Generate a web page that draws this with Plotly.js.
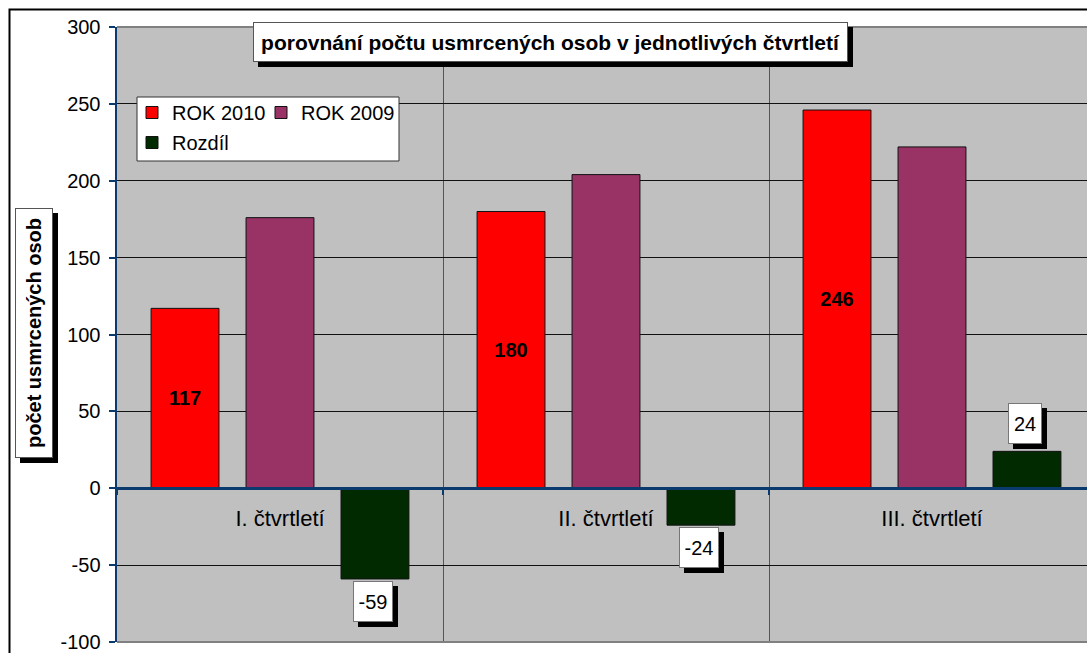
<!DOCTYPE html>
<html>
<head>
<meta charset="utf-8">
<script src="https://cdn.plot.ly/plotly-3.0.1.min.js"></script>
<style>html,body{margin:0;padding:0;background:#fff;}#chart{width:1087px;height:653px;}</style>
</head>
<body>
<div id="chart"></div>
<script>
const categories = ['I. čtvrtletí', 'II. čtvrtletí', 'III. čtvrtletí'];
const rok2010 = [117, 180, 246];
const rok2009 = [176, 204, 222];
const rozdil = [-59, -24, 24];
const seriesNames = ['ROK 2010', 'ROK 2009', 'Rozdíl'];
const yTickVals = [-100, -50, 0, 50, 100, 150, 200, 250, 300];
const yTickText = ['-100', '-50', '0', '50', '100', '150', '200', '250', '300'];
const chartTitle = 'porovnání počtu usmrcených osob v jednotlivých čtvrtletí';
const yTitle = 'počet usmrcených osob';

const W = 1087, H = 653;
const M = {l: 117, r: 0, t: 27, b: 11};
const PW = W - M.l - M.r, PH = H - M.t - M.b;
const px = x => (x - M.l) / PW;
const py = y => (H - M.b - y) / PH;
const FONT = 'Liberation Sans, Arial, sans-serif';
const FS = 20;
const AXIS = '#0b3a6e';

const ctx = document.createElement('canvas').getContext('2d');
ctx.font = FS + 'px "Liberation Sans"';
const textW = s => Math.ceil(ctx.measureText(s).width) + 1;

const traces = [
  {type: 'bar', name: seriesNames[0], x: categories, y: rok2010,
   marker: {color: '#ff0000', line: {color: '#111', width: 1}},
   text: rok2010.map(String), textposition: 'inside', insidetextanchor: 'middle',
   textfont: {family: FONT, size: FS, color: '#000', weight: 'bold'},
   hoverinfo: 'x+y', legend: 'legend'},
  {type: 'bar', name: seriesNames[1], x: categories, y: rok2009,
   marker: {color: '#993366', line: {color: '#111', width: 1}},
   hoverinfo: 'x+y', legend: 'legend3'},
  {type: 'bar', name: seriesNames[2], x: categories, y: rozdil,
   marker: {color: '#012a01', line: {color: '#111', width: 1}},
   hoverinfo: 'x+y', legend: 'legend2'}
];

const annotations = [];
function boxed(opts, shadowDx, shadowDy) {
  const shadow = Object.assign({}, opts, {
    text: '\u00a0', bgcolor: '#000', bordercolor: '#000',
    xshift: (opts.xshift || 0) + shadowDx, yshift: (opts.yshift || 0) - shadowDy
  });
  annotations.push(shadow);
  annotations.push(opts);
}
// chart title box
boxed({text: '<b>' + chartTitle + '</b>', xref: 'paper', yref: 'paper',
  x: px(550.5), y: py(42), xanchor: 'center', yanchor: 'middle', showarrow: false,
  width: 593, height: 38, borderpad: 0, borderwidth: 1, bordercolor: '#555', bgcolor: '#fff',
  font: {family: FONT, size: 21, color: '#000'}}, 5, 5);
// y axis title box
boxed({text: '<b>' + yTitle + '</b>', xref: 'paper', yref: 'paper',
  x: px(34), y: py(333), xanchor: 'center', yanchor: 'middle', showarrow: false,
  textangle: -90, width: 248, height: 36, borderpad: 0, borderwidth: 1, bordercolor: '#555', bgcolor: '#fff',
  font: {family: FONT, size: FS, color: '#000'}}, 5, 5);
// Rozdíl value labels
rozdil.forEach((v, i) => {
  const s = String(v);
  boxed({text: s, xref: 'x', yref: 'y', x: i + 0.2914, y: v,
    xanchor: 'center', yanchor: v < 0 ? 'top' : 'bottom', showarrow: false,
    xshift: -2, yshift: v < 0 ? -2 : 7,
    width: textW(s), height: 31, borderpad: 4, borderwidth: 1, bordercolor: '#777', bgcolor: '#fff',
    font: {family: FONT, size: FS, color: '#000'}}, 5, 5);
});

const legendBase = {orientation: 'h', xanchor: 'left', yanchor: 'top',
  bgcolor: 'rgba(0,0,0,0)', borderwidth: 0, font: {family: FONT, size: FS, color: '#000'}};

const layout = {
  width: W, height: H,
  margin: M,
  paper_bgcolor: '#fff', plot_bgcolor: '#c0c0c0',
  font: {family: FONT, size: FS, color: '#000'},
  barmode: 'group', bargap: 0.126, bargroupgap: 0.285,
  showlegend: true,
  legend: Object.assign({}, legendBase, {x: px(132), y: py(93)}),
  legend3: Object.assign({}, legendBase, {x: px(261), y: py(93)}),
  legend2: Object.assign({}, legendBase, {x: px(132), y: py(123)}),
  xaxis: {type: 'category', range: [-0.5, -0.5 + PW / 326], anchor: 'free', position: 0.25,
    showline: true, linecolor: AXIS, linewidth: 2.5,
    tickson: 'boundaries', ticks: 'outside', ticklen: 5, tickcolor: AXIS, tickwidth: 2,
    showgrid: true, gridcolor: '#555', gridwidth: 1,
    ticklabelstandoff: 10,
    tickfont: {family: FONT, size: 22, color: '#000'}, fixedrange: true},
  yaxis: {range: [-100, 300], tickmode: 'array', tickvals: yTickVals, ticktext: yTickText,
    showline: true, linecolor: AXIS, linewidth: 2.5, mirror: false,
    ticks: 'outside', ticklen: 6, tickcolor: AXIS, tickwidth: 2,
    showgrid: true, gridcolor: '#111', gridwidth: 1, zeroline: false,
    ticklabelstandoff: 4,
    tickfont: {family: FONT, size: FS, color: '#000'}, fixedrange: true},
  shapes: [
    {type: 'rect', xref: 'paper', yref: 'paper', x0: px(9.5), x1: px(1100), y0: py(670), y1: py(9.5),
     line: {color: '#000', width: 2}, fillcolor: 'rgba(0,0,0,0)', layer: 'below'},
    {type: 'line', xref: 'paper', yref: 'paper', x0: 0, x1: 1, y0: 1, y1: 1,
     line: {color: '#808080', width: 2}, layer: 'above'},
    {type: 'line', xref: 'paper', yref: 'paper', x0: 0, x1: 1, y0: 0, y1: 0,
     line: {color: '#808080', width: 2}, layer: 'above'},
    {type: 'rect', xref: 'paper', yref: 'paper', x0: px(137), x1: px(399), y0: py(161), y1: py(97),
     line: {color: '#333', width: 1}, fillcolor: '#fff', layer: 'above'}
  ],
  annotations: annotations
};

Plotly.newPlot('chart', traces, layout, {displayModeBar: false, staticPlot: true});
</script>
</body>
</html>
